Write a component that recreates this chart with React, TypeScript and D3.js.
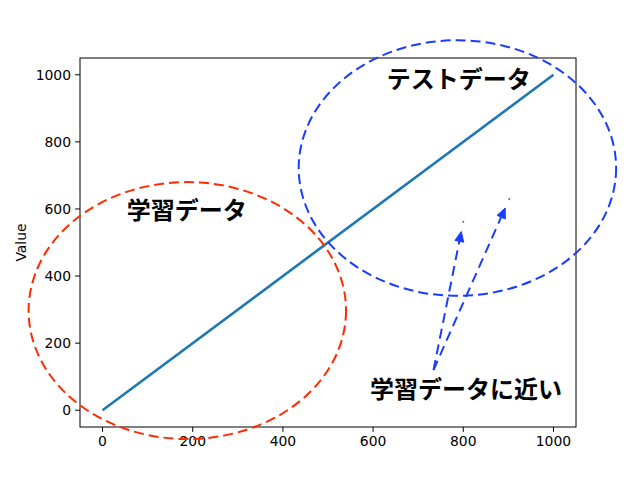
import React from "react";
import * as d3 from "d3";

const lineX = [0, 1000];
const lineY = [0, 1000];
const xTicks = [0, 200, 400, 600, 800, 1000];
const yTicks = [0, 200, 400, 600, 800, 1000];
const ellipseCenters = [
  { cx: 188, cy: 297, rx: 352, ry: 383, color: "#ff2a00" },
  { cx: 787, cy: 722, rx: 352, ry: 381, color: "#1a3cff" },
];
const labels = [
  { text: "学習データ", x: 187, y: 600 },
  { text: "テストデータ", x: 790, y: 993 },
  { text: "学習データに近い", x: 806, y: 68 },
];
const arrowTail = { x: 734, y: 120 };
const arrowTargets = [
  { x: 800, y: 562 },
  { x: 902, y: 630 },
];

const W = 640, H = 480;
const L = 80, R = 576, T = 58, B = 427;

export default function App() {
  const x = d3.scaleLinear().domain([-50, 1050]).range([L, R]);
  const y = d3.scaleLinear().domain([-50, 1050]).range([B, T]);
  const line = d3.line<number>().x((_, i) => x(lineX[i])).y((_, i) => y(lineY[i]));
  const font = "DejaVu Sans, sans-serif";
  const jp = "'Noto Sans CJK JP', sans-serif";
  const blue = "#1a3cff";

  const arrows = arrowTargets.map((t) => {
    const x0 = x(arrowTail.x), y0 = y(arrowTail.y);
    const x1 = x(t.x), y1 = y(t.y);
    const dx = x1 - x0, dy = y1 - y0;
    const len = Math.hypot(dx, dy);
    const ux = dx / len, uy = dy / len;
    const shrink = 10;
    const tipX = x1 - ux * shrink, tipY = y1 - uy * shrink;
    const hl = 10, hw = 4.5;
    const bx = tipX - ux * hl, by = tipY - uy * hl;
    const px = -uy, py = ux;
    return { x0, y0, x1, y1, tipX, tipY, bx, by, px, py, hw };
  });

  return (
    <svg width={W} height={H} style={{ display: "block", position: "absolute", left: 0, top: 0 }}>
      <rect width={W} height={H} fill="#fff" />
      <path d={line(lineX) || ""} stroke="#1f77b4" strokeWidth={2.6} fill="none" />
      <rect x={L} y={T} width={R - L} height={B - T} fill="none" stroke="#000" strokeWidth={1} />
      {xTicks.map((v) => (
        <g key={"x" + v}>
          <line x1={x(v)} x2={x(v)} y1={B} y2={B + 4.9} stroke="#000" strokeWidth={1} />
          <text x={x(v)} y={B + 19} textAnchor="middle" fontFamily={font} fontSize={13.9} fill="#000">{v}</text>
        </g>
      ))}
      {yTicks.map((v) => (
        <g key={"y" + v}>
          <line x1={L - 4.9} x2={L} y1={y(v)} y2={y(v)} stroke="#000" strokeWidth={1} />
          <text x={L - 9} y={y(v) + 5} textAnchor="end" fontFamily={font} fontSize={13.9} fill="#000">{v}</text>
        </g>
      ))}
      <text transform={`translate(26,${(T + B) / 2}) rotate(-90)`} textAnchor="middle" fontFamily={font} fontSize={13.9} fill="#000">Value</text>
      {ellipseCenters.map((e, i) => (
        <ellipse key={i} cx={x(e.cx)} cy={y(e.cy)} rx={x(e.rx) - x(0)} ry={y(0) - y(e.ry)}
          fill="none" stroke={e.color} strokeWidth={2} strokeDasharray="10,5" />
      ))}
      {arrows.map((a, i) => (
        <g key={i}>
          <line x1={a.x0} y1={a.y0} x2={a.bx} y2={a.by} stroke={blue} strokeWidth={2} strokeDasharray="10,6" />
          <polygon points={`${a.tipX},${a.tipY} ${a.bx + a.px * a.hw},${a.by + a.py * a.hw} ${a.bx - a.px * a.hw},${a.by - a.py * a.hw}`} fill={blue} stroke={blue} strokeWidth={1} />
          <circle cx={a.x1} cy={a.y1} r={1} fill="#1f77b4" />
        </g>
      ))}
      {labels.map((l, i) => (
        <text key={i} x={x(l.x)} y={y(l.y)} textAnchor="middle" dominantBaseline="central" fontFamily={jp} fontWeight="bold" fontSize={24} fill="#000">{l.text}</text>
      ))}
    </svg>
  );
}
